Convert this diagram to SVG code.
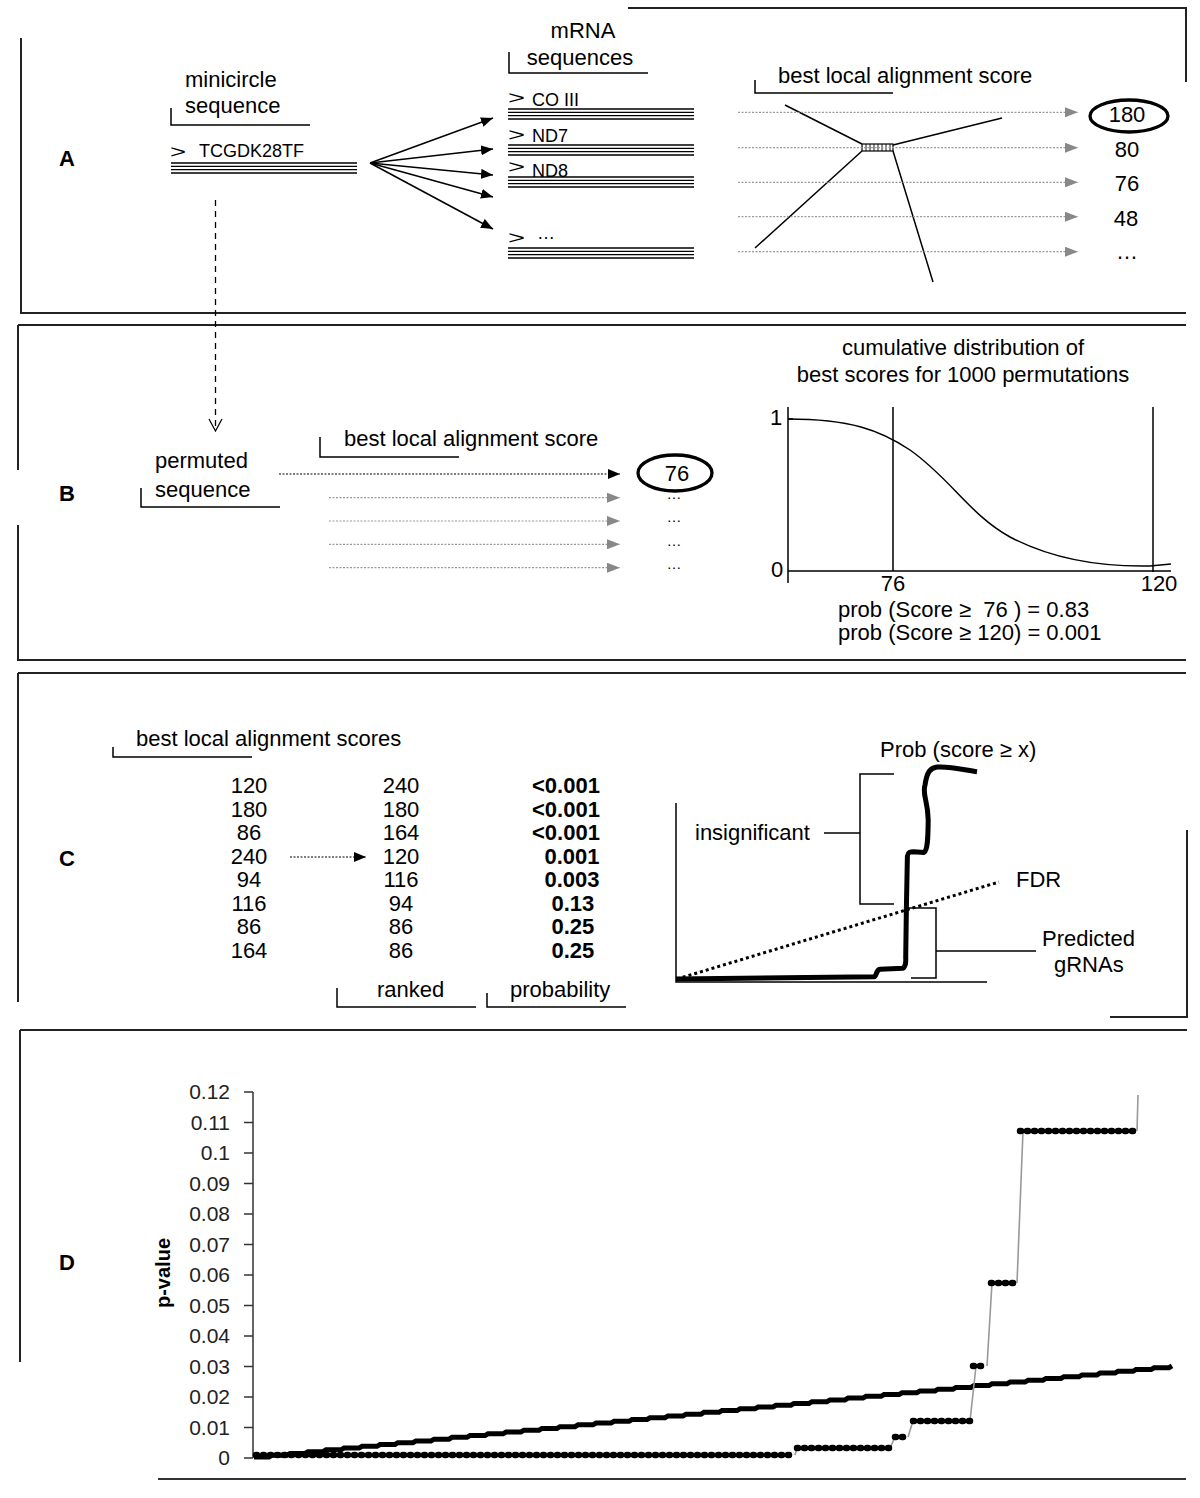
<svg xmlns="http://www.w3.org/2000/svg" width="1200" height="1498" viewBox="0 0 1200 1498">
<defs>
<style>
text{font-family:"Liberation Sans",Arial,Helvetica,sans-serif;font-size:22px;fill:#000}
.s18{font-size:18px}
.lbl{font-weight:bold}
.bold{font-weight:bold}
.ell{font-size:15px}
.bd{stroke:#222;stroke-width:2;fill:none}
.ln{stroke:#000;stroke-width:1.5;fill:none}
.seq{stroke:#000;stroke-width:1.3}
.gd{stroke:#999;stroke-width:1.2;stroke-dasharray:2 1.5;fill:none}
.kd{stroke:#000;stroke-width:1.2;stroke-dasharray:2 1.5;fill:none}
.dots{stroke:#000;stroke-width:6.5;stroke-linecap:round;stroke-dasharray:1 6;fill:none}
.gl{stroke:#999;stroke-width:1.6;fill:none}
.tick{fill:#222;font-size:21px}
</style>
<marker id="ab" viewBox="0 0 12 10" refX="12" refY="5" markerWidth="12" markerHeight="10" markerUnits="userSpaceOnUse" orient="auto"><path d="M0,0L12,5L0,10z" fill="#000"/></marker>
<marker id="ag" viewBox="0 0 13 10" refX="13" refY="5" markerWidth="13" markerHeight="10" markerUnits="userSpaceOnUse" orient="auto"><path d="M0,0L13,5L0,10z" fill="#888"/></marker>
<marker id="av" viewBox="-1 -1 14 15" refX="12" refY="6.5" markerWidth="14" markerHeight="15" markerUnits="userSpaceOnUse" orient="auto"><path d="M0,0L12,6.5L0,13" fill="none" stroke="#000" stroke-width="1.2"/></marker>
</defs>
<rect width="1200" height="1498" fill="#fff"/>

<!-- panel frames -->
<g id="frames">
<path class="bd" d="M628,8H1186V82"/>
<path class="bd" d="M21,38V313H1186"/>
<path class="bd" d="M18,325H1186"/>
<path class="bd" d="M18,325V470M18,525V660H1186"/>
<path class="bd" d="M18,673H1186M18,673V1002"/>
<path class="bd" d="M1187,830V1017H1110"/>
<path class="bd" d="M20,1030H1187M20,1030V1362"/>
</g>

<g id="panel-labels">
<text class="lbl" x="59" y="166">A</text>
<text class="lbl" x="59" y="501">B</text>
<text class="lbl" x="59" y="866">C</text>
<text class="lbl" x="59" y="1270">D</text>
</g>

<!-- Panel A -->
<g id="minicircle">
<text x="185" y="87">minicircle</text>
<text x="185" y="113">sequence</text>
<path class="ln" d="M171,108V125H310"/>
<text class="s18" x="170" y="158" textLength="16" lengthAdjust="spacingAndGlyphs">&gt;</text>
<text class="s18" x="199" y="157">TCGDK28TF</text>
<path class="seq" d="M171,163H357M171,166.3H357M171,169.6H357M171,173H357"/>
</g>

<g id="mrna">
<text x="583" y="38" text-anchor="middle">mRNA</text>
<text x="580" y="65" text-anchor="middle">sequences</text>
<path class="ln" d="M509,52V73H648"/>
<text class="s18" x="508" y="104" textLength="17" lengthAdjust="spacingAndGlyphs">&gt;</text>
<text class="s18" x="532" y="106">CO III</text>
<path class="seq" d="M508,109H694M508,112.3H694M508,115.7H694M508,119H694"/>
<text class="s18" x="508" y="141" textLength="17" lengthAdjust="spacingAndGlyphs">&gt;</text>
<text class="s18" x="532" y="142">ND7</text>
<path class="seq" d="M508,145H694M508,148.3H694M508,151.7H694M508,155H694"/>
<text class="s18" x="508" y="173" textLength="17" lengthAdjust="spacingAndGlyphs">&gt;</text>
<text class="s18" x="532" y="177">ND8</text>
<path class="seq" d="M508,177H694M508,180.3H694M508,183.7H694M508,187H694"/>
<text class="s18" x="508" y="244" textLength="17" lengthAdjust="spacingAndGlyphs">&gt;</text>
<text class="s18" x="537" y="239">…</text>
<path class="seq" d="M508,248H694M508,251.3H694M508,254.7H694M508,258H694"/>
</g>

<g id="alignment-A">
<text x="778" y="83">best local alignment score</text>
<path class="ln" d="M755,80V93H893"/>
<path class="ln" d="M785,105L862,144M893,145L1002,118M862,151L755,248M893,151L933,282"/>
<rect x="862" y="144" width="31" height="7" fill="#fff" stroke="#000" stroke-width="1.2"/>
<path stroke="#000" stroke-width="0.9" d="M866,144V151M870,144V151M874,144V151M878,144V151M882,144V151M886,144V151M890,144V151"/>
</g>

<g id="scores-A">
<ellipse cx="1129" cy="116" rx="39" ry="16" fill="none" stroke="#000" stroke-width="3.3"/>
<text x="1127" y="122" text-anchor="middle">180</text>
<text x="1127" y="157" text-anchor="middle">80</text>
<text x="1127" y="191" text-anchor="middle">76</text>
<text x="1126" y="226" text-anchor="middle">48</text>
<text x="1127" y="259" text-anchor="middle">…</text>
</g>

<!-- Panel B -->
<g id="permuted">
<text x="155" y="468">permuted</text>
<text x="155" y="497">sequence</text>
<path class="ln" d="M141,488V507H280"/>
</g>

<g id="alignment-B">
<text x="344" y="446">best local alignment score</text>
<path class="ln" d="M320,437V457H459"/>
<ellipse cx="675" cy="473" rx="37" ry="18" fill="none" stroke="#000" stroke-width="3.3"/>
<text x="677" y="481" text-anchor="middle">76</text>
<text class="ell" x="674" y="499" text-anchor="middle">…</text>
<text class="ell" x="674" y="522" text-anchor="middle">…</text>
<text class="ell" x="674" y="546" text-anchor="middle">…</text>
<text class="ell" x="674" y="569" text-anchor="middle">…</text>
</g>

<g id="cdf-chart">
<text x="963" y="355" text-anchor="middle">cumulative distribution of</text>
<text x="963" y="382" text-anchor="middle">best scores for 1000 permutations</text>
<path class="ln" d="M788,407V583M788,571H1171M788,419H793M893,407V571M1153,407V572"/>
<path fill="none" stroke="#000" stroke-width="1.5" d="M788,419C850,419 880,430 910,450C950,478 970,515 1010,537C1050,558 1100,567 1150,566L1171,564"/>
<text x="776" y="425" text-anchor="middle">1</text>
<text x="777" y="577" text-anchor="middle">0</text>
<text x="893" y="591" text-anchor="middle">76</text>
<text x="1159" y="591" text-anchor="middle">120</text>
<text x="838" y="617" xml:space="preserve">prob (Score ≥  76 ) = 0.83</text>
<text x="838" y="640" xml:space="preserve">prob (Score ≥ 120) = 0.001</text>
</g>

<!-- Panel C -->
<g id="scores-table">
<text x="136" y="746">best local alignment scores</text>
<path class="ln" d="M113,747V757H252"/>
<g text-anchor="middle">
<text x="249" y="793">120</text><text x="249" y="816.5">180</text><text x="249" y="840">86</text><text x="249" y="863.5">240</text>
<text x="249" y="887">94</text><text x="249" y="910.5">116</text><text x="249" y="934">86</text><text x="249" y="957.5">164</text>
<text x="401" y="793">240</text><text x="401" y="816.5">180</text><text x="401" y="840">164</text><text x="401" y="863.5">120</text>
<text x="401" y="887">116</text><text x="401" y="910.5">94</text><text x="401" y="934">86</text><text x="401" y="957.5">86</text>
</g>
<g class="bold">
<text class="bold" x="532" y="793">&lt;0.001</text>
<text class="bold" x="532" y="816.5">&lt;0.001</text>
<text class="bold" x="532" y="840">&lt;0.001</text>
<text class="bold" x="544.5" y="863.5">0.001</text>
<text class="bold" x="544.5" y="887">0.003</text>
<text class="bold" x="551.5" y="910.5">0.13</text>
<text class="bold" x="551.5" y="934">0.25</text>
<text class="bold" x="551.5" y="957.5">0.25</text>
</g>
<text x="377" y="997">ranked</text>
<path class="ln" d="M337,988V1007H476"/>
<text x="510" y="997">probability</text>
<path class="ln" d="M487,993V1007H626"/>
</g>

<g id="fdr-chart">
<path class="ln" d="M676,803V982H987"/>
<path fill="none" stroke="#000" stroke-width="3" stroke-dasharray="3 3" d="M677,979L999,882"/>
<path fill="none" stroke="#000" stroke-width="5" stroke-linejoin="round" d="M676,979L874.5,976.7C877,975 876,970 880,969.3L903,968.3C906,966 906,962 905.7,958L906.4,906.7L907.4,856C908,852 910,851.7 914,851.7L924,852.5C928,850 928,835 928.2,820C928,800 922,795 925,785C927,772 930,768 937,767C950,766 965,770 977,771.7"/>
<text x="880" y="757">Prob (score ≥ x)</text>
<text x="695" y="840">insignificant</text>
<path class="ln" d="M824,833H860M894,774H860V904H894"/>
<text x="1016" y="887">FDR</text>
<path class="ln" d="M908,908H936V978H911M936,951H1036"/>
<text x="1042" y="946">Predicted</text>
<text x="1054" y="972">gRNAs</text>
</g>

<!-- Panel D -->
<g id="pvalue-chart">
<path stroke="#333" stroke-width="1.5" fill="none" d="M253,1092V1458M244,1092H253M244,1122.5H253M244,1153H253M244,1183.5H253M244,1214H253M244,1244.5H253M244,1275H253M244,1305.5H253M244,1336H253M244,1366.5H253M244,1397H253M244,1427.5H253M244,1458H253"/>
<path stroke="#333" stroke-width="2" d="M158,1479H1186"/>
<g class="tick" text-anchor="end">
<text class="tick" x="230" y="1099">0.12</text>
<text class="tick" x="230" y="1129.5">0.11</text>
<text class="tick" x="230" y="1160">0.1</text>
<text class="tick" x="230" y="1190.5">0.09</text>
<text class="tick" x="230" y="1221">0.08</text>
<text class="tick" x="230" y="1251.5">0.07</text>
<text class="tick" x="230" y="1282">0.06</text>
<text class="tick" x="230" y="1312.5">0.05</text>
<text class="tick" x="230" y="1343">0.04</text>
<text class="tick" x="230" y="1373.5">0.03</text>
<text class="tick" x="230" y="1404">0.02</text>
<text class="tick" x="230" y="1434.5">0.01</text>
<text class="tick" x="230" y="1465">0</text>
</g>
<text class="bold" style="font-size:20px" transform="translate(170,1273) rotate(-90)" text-anchor="middle">p-value</text>
<path fill="none" stroke="#000" stroke-width="5" d="M254,1457 h15 l3,-1.785 h15 l3,-1.785 h15 l3,-1.785 h15 l3,-1.785 h15 l3,-1.785 h15 l3,-1.785 h15 l3,-1.785 h15 l3,-1.785 h15 l3,-1.785 h15 l3,-1.785 h15 l3,-1.785 h15 l3,-1.785 h15 l3,-1.785 h15 l3,-1.785 h15 l3,-1.785 h15 l3,-1.785 h15 l3,-1.785 h15 l3,-1.785 h15 l3,-1.785 h15 l3,-1.785 h15 l3,-1.785 h15 l3,-1.785 h15 l3,-1.785 h15 l3,-1.785 h15 l3,-1.785 h15 l3,-1.785 h15 l3,-1.785 h15 l3,-1.785 h15 l3,-1.785 h15 l3,-1.785 h15 l3,-1.785 h15 l3,-1.785 h15 l3,-1.785 h15 l3,-1.785 h15 l3,-1.785 h15 l3,-1.785 h15 l3,-1.785 h15 l3,-1.785 h15 l3,-1.785 h15 l3,-1.785 h15 l3,-1.785 h15 l3,-1.785 h15 l3,-1.785 h15 l3,-1.785 h15 l3,-1.785 h15 l3,-1.785 h15 l3,-1.785 h15 l3,-1.785 h15 l3,-1.785 h15 l3,-1.785 h15 l3,-1.785"/>
<path class="gl" d="M795,1455L797,1448M890,1448L895,1437M908,1437L913,1421M970,1421L976,1366M987,1366L992,1283M1017,1283L1023,1131M1137,1131L1138,1095"/>
<path class="dots" d="M256,1455H795M797,1448H890M895,1437H908M913,1421H970M973,1366H987M991,1283H1017M1020,1131H1137"/>
</g>

<!-- connectors -->
<g id="connectors">
<g class="ln" marker-end="url(#ab)">
<path d="M370,163L493,118"/>
<path d="M370,163L493,149"/>
<path d="M370,163L493,175"/>
<path d="M370,163L493,197"/>
<path d="M370,163L493,229"/>
</g>
<g class="gd" marker-end="url(#ag)">
<path d="M738,112.3H1078"/>
<path d="M738,147.7H1078"/>
<path d="M738,182.3H1078"/>
<path d="M738,216.7H1078"/>
<path d="M738,251.7H1078"/>
<path d="M329,497.7H620"/>
<path d="M329,521H620"/>
<path d="M329,544.3H620"/>
<path d="M329,567.7H620"/>
</g>
<path class="kd" marker-end="url(#ab)" d="M279,474H620"/>
<path class="kd" marker-end="url(#ab)" d="M290,857H366"/>
<path fill="none" stroke="#000" stroke-width="1.3" stroke-dasharray="6 5" marker-end="url(#av)" d="M215.5,200V431"/>
</g>
</svg>
